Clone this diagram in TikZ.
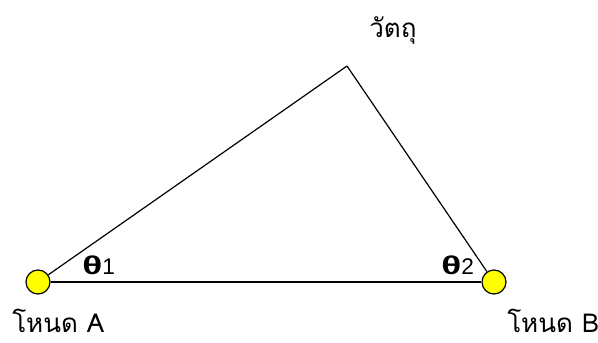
\documentclass[tikz,border=0pt]{standalone}
\usepackage{fontspec}
\usepackage{tikz}
\newfontfamily\thaifont[Script=Thai]{Loma}
\newfontfamily\greekfont{Liberation Sans}
\definecolor{ndYellow}{HTML}{FFFF00}
\tikzset{
  station/.style={circle,draw=black,fill=ndYellow,line width=0.9pt,inner sep=0pt,minimum size=18pt},
  lbl/.style={inner sep=0pt,anchor=base west,font=\thaifont\fontsize{19.5}{20}\selectfont},
  ang/.style={inner sep=0pt,anchor=base west,font=\greekfont\fontsize{17}{17}\selectfont}
}
\newcommand{\bigth}{\resizebox{15pt}{14pt}{\bfseries θ}}

\begin{document}
\begin{tikzpicture}[x=0.75pt,y=-0.75pt]
\useasboundingbox (0,0) rectangle (598,342);
\coordinate (obj) at (347,66);
\node[station] (nodeA) at (38,282) {};
\node[station] (nodeB) at (494,282) {};
\draw[line width=0.9pt] (obj) -- (nodeA);
\draw[line width=0.9pt] (obj) -- (nodeB);
\draw[line width=1.1pt] (nodeA) -- (nodeB);
\node[lbl] (objlabel) at (369,38) {วัตถุ};
\node[lbl] (labelA) at (12,332) {โหนด A};
\node[lbl] (labelB) at (507,332) {โหนด B};
\node[ang] (theta1) at (82,274) {\bigth1};
\node[ang] (theta2) at (441,274) {\bigth2};
\end{tikzpicture}
\end{document}
